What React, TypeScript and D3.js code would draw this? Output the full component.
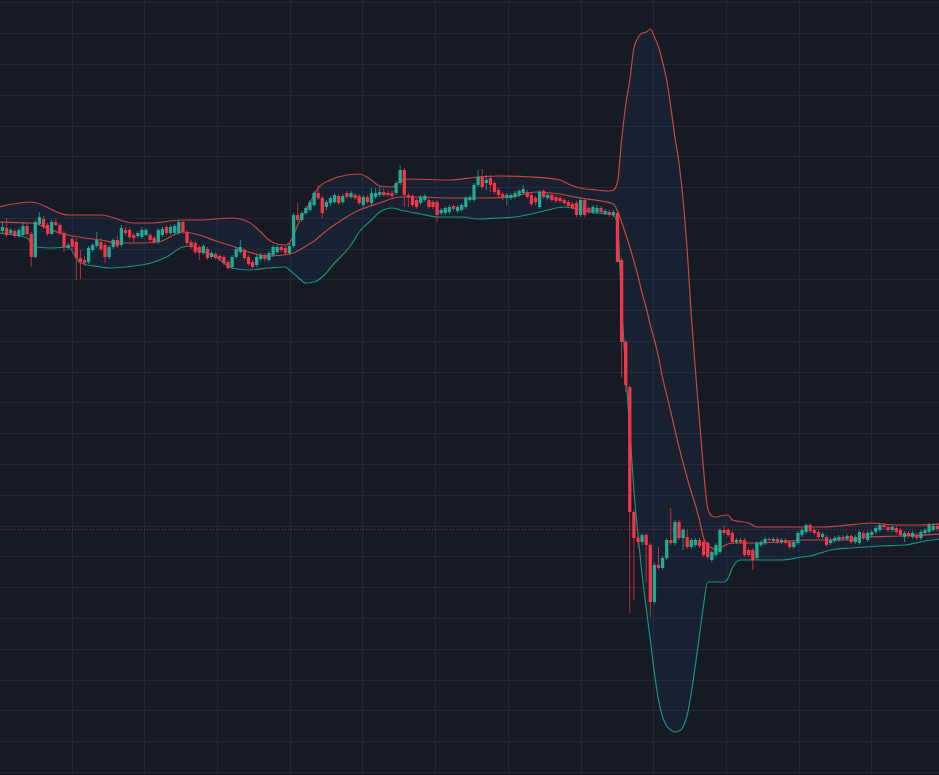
import React from 'react';
import * as d3 from 'd3';

const W = 939;
const H = 775;

// OHLC per candle (index 0..228)
const opens = [
  569,572,567,569,564,565,574,566,543,576,
  581,575,566,578,575,567,552,561,558,542,
  540,538,550,554,558,555,543,553,560,555,
  570,570,565,564,563,565,565,562,558,565,
  573,567,567,567,578,568,558,557,553,547,
  551,543,546,544,543,538,533,543,548,550,
  543,538,535,541,545,540,545,548,553,552,
  547,554,585,580,587,590,595,607,602,593,
  597,598,604,598,607,603,605,604,595,603,
  597,603,605,608,607,607,607,617,630,605,
  604,600,597,600,600,598,598,587,587,588,
  594,589,590,593,600,600,615,623,617,622,
  617,610,606,602,602,603,605,607,608,605,
  602,593,609,602,605,603,602,600,598,596,
  597,585,600,592,588,588,592,587,588,585,
  587,540,458,413,288,262,258,265,255,198,
  235,232,242,260,257,278,262,263,253,255,
  260,258,257,240,245,248,270,270,267,258,
  260,260,250,250,242,255,257,261,259,261,
  258,260,258,253,257,265,268,275,270,268,
  263,263,257,259,260,263,261,264,258,257,
  267,260,265,268,270,275,273,270,272,270,
  263,267,263,265,262,267,268,270,274,
];
const highs = [
  578,582,572,571,572,578,577,568,580,588,
  584,577,580,581,577,569,557,564,562,550,
  544,554,557,568,562,557,555,562,564,575,
  573,573,567,569,573,572,567,564,572,573,
  575,575,576,581,580,570,560,559,555,556,
  553,549,548,546,545,540,545,553,560,552,
  545,540,545,547,547,549,555,555,555,554,
  556,587,597,589,594,600,609,615,604,600,
  604,607,606,606,609,609,607,606,605,605,
  612,612,614,612,610,610,619,635,632,607,
  606,602,605,606,602,600,600,592,594,595,
  596,595,597,604,605,617,630,631,625,625,
  619,612,608,607,607,609,611,615,610,607,
  604,610,611,607,607,605,604,602,600,598,
  599,602,602,594,595,595,594,591,590,590,
  589,542,460,415,290,264,267,267,257,237,
  253,244,262,292,280,280,272,270,262,262,
  262,260,259,250,257,272,275,272,269,262,
  262,262,252,252,259,260,263,263,263,263,
  262,262,260,260,269,272,277,277,272,270,
  268,265,262,264,265,265,266,266,265,270,
  269,269,270,274,277,277,275,275,274,272,
  269,269,269,267,270,272,277,277,277,
];
const lows = [
  567,563,565,562,562,564,564,533,542,574,
  571,564,565,574,565,548,550,550,520,521,
  534,536,548,552,549,537,541,551,552,553,
  565,561,558,562,561,564,558,556,556,563,
  565,565,565,565,566,555,551,546,540,545,
  540,541,540,539,535,530,531,541,546,540,
  534,531,533,539,539,538,543,546,548,545,
  545,552,578,578,585,588,593,600,582,590,
  594,596,595,596,601,601,600,595,593,596,
  595,601,603,603,603,602,605,615,593,593,
  593,591,595,598,591,591,578,585,585,586,
  589,587,588,591,598,598,613,611,610,608,
  606,603,600,595,600,601,603,605,601,594,
  595,591,601,600,598,597,597,595,592,590,
  583,583,583,586,586,586,586,585,583,583,
  538,423,408,187,200,252,255,217,183,196,
  230,230,240,255,255,260,250,251,251,253,
  252,243,241,238,243,246,265,263,256,256,
  256,243,243,230,240,253,255,258,257,256,
  256,255,251,251,255,263,266,267,265,261,
  261,253,255,257,258,259,259,256,256,255,
  260,258,263,266,268,271,268,268,266,263,
  258,262,261,260,260,265,266,268,269,
];
const closes = [
  573,565,570,564,570,574,566,543,578,583,
  573,566,578,575,567,553,555,553,542,538,
  537,552,555,560,551,543,553,560,554,572,
  567,563,562,567,570,570,560,558,570,571,
  567,573,574,578,568,557,553,548,547,554,
  542,547,542,541,537,532,543,551,553,542,
  536,533,543,545,541,547,553,553,550,547,
  554,585,580,587,592,598,607,602,587,598,
  602,605,597,604,603,607,602,597,603,598,
  607,607,608,605,605,604,617,630,605,603,
  595,593,603,604,593,593,585,590,592,593,
  591,593,595,602,603,615,623,613,620,615,
  608,605,602,605,605,607,609,611,603,596,
  598,608,603,605,600,599,599,597,594,592,
  585,600,585,588,593,592,588,589,585,588,
  538,458,415,288,262,258,265,255,198,235,
  232,242,260,257,278,262,270,253,260,260,
  254,245,243,248,255,270,267,265,258,260,
  258,245,245,240,257,258,261,260,261,258,
  260,257,253,258,267,270,275,269,267,263,
  266,255,260,262,263,261,264,258,263,268,
  262,267,268,272,275,273,270,273,268,265,
  267,264,267,262,268,270,275,274,271,
];

// Bollinger band readings: [candle index, price]
const upperBand: [number, number][] = [
  [-1, 593], [7, 598], [16, 585], [24, 585], [32, 577], [36, 577], [44, 580], [48, 580],
  [56, 582], [60, 578], [63, 568], [65, 560], [67, 556], [69, 555], [70, 557], [71, 565],
  [72, 575], [74, 590], [76, 605], [77, 612], [80, 620], [84, 625], [87, 626], [90, 620],
  [92, 614], [95, 613], [97, 619], [99, 621], [109, 620], [116, 623], [121, 624], [129, 623],
  [136, 620], [138, 616], [141, 612], [145, 610], [148, 609], [149, 610], [150, 618],
  [151, 660], [152, 695], [153, 720], [154, 752], [155, 762], [156, 767], [157, 768],
  [158, 771], [159, 763], [160, 753], [161, 738], [162, 720], [163, 693], [164, 663],
  [165, 637], [166, 600], [167, 550], [168, 485], [169, 430], [170, 380], [171, 330],
  [172, 292], [173, 284], [174, 283], [175, 284], [177, 285], [178, 280], [182, 277],
  [184, 273], [195, 273], [200, 273], [204, 274], [212, 277], [218, 275], [224, 275], [229, 276],
];
const middleBand: [number, number][] = [
  [-1, 578], [7, 577], [14, 567], [20, 562], [24, 560], [28, 557], [34, 557], [38, 558],
  [44, 568], [48, 565], [52, 559], [56, 554], [60, 548], [65, 544], [70, 546], [72, 549],
  [74, 554], [76, 559], [78, 566], [82, 578], [87, 590], [92, 597], [97, 603], [102, 603],
  [109, 602], [117, 602], [124, 603], [130, 608], [134, 607], [141, 602], [146, 599],
  [149, 596], [150, 589], [151, 578], [152, 566], [153, 553], [154, 539], [155, 524],
  [156, 507], [157, 492], [158, 475], [159, 460], [160, 443], [161, 422], [162, 405],
  [163, 388], [164, 370], [165, 353], [166, 337], [167, 322], [168, 308], [169, 295],
  [170, 280], [171, 262], [172, 255], [173, 252], [174, 250], [175, 252], [178, 257],
  [184, 257], [190, 258], [195, 260], [207, 260], [211, 263], [219, 264], [229, 266],
];
const lowerBand: [number, number][] = [
  [-1, 567], [6, 562], [8, 553], [12, 552], [16, 553], [19, 537], [24, 533], [26, 532],
  [30, 533], [37, 538], [40, 543], [44, 553], [46, 554], [48, 550], [52, 543], [56, 532],
  [60, 530], [65, 532], [69, 533], [70, 530], [72, 523], [74, 517], [76, 518], [78, 523],
  [81, 537], [85, 555], [87, 568], [90, 580], [92, 588], [95, 592], [97, 590], [102, 586],
  [106, 583], [112, 583], [116, 581], [121, 582], [125, 583], [129, 586], [133, 590],
  [137, 593], [141, 590], [145, 587], [149, 585], [150, 575], [151, 495], [152, 428],
  [153, 370], [154, 310], [155, 265], [156, 225], [157, 192], [158, 160], [159, 127],
  [160, 100], [161, 83], [162, 74], [163, 70], [164, 68], [165, 69], [166, 73], [167, 85],
  [168, 107], [169, 135], [170, 165], [171, 195], [172, 218], [176, 218], [177, 222],
  [178, 232], [180, 240], [190, 240], [195, 243], [197, 244], [202, 250], [207, 252],
  [214, 254], [220, 255], [225, 259], [229, 261],
];

// grid positions (price levels and candle positions)
const gridPrices = [
  797.5, 766.7, 736.0, 705.2, 674.4, 643.7, 612.9, 582.1, 551.3, 520.6, 489.8, 459.0, 428.3,
  397.5, 366.7, 335.9, 305.2, 274.4, 243.6, 212.9, 182.1, 151.3, 120.5, 89.8, 59.0, 28.2,
];
const gridIdx = [16.88, 34.61, 52.34, 70.07, 87.8, 105.54, 123.27, 141.0, 158.73, 176.46, 194.2, 211.93];

const BG = '#161a25';
const GRID = '#232732';
const UP = '#22ab94';
const DOWN = '#f23645';

export default function App() {
  const x = d3.scaleLinear().domain([0, 228]).range([2.5, 937.3]);
  const y = d3.scaleLinear().domain([25, 800]).range([H, 0]);

  const line = d3
    .line<[number, number]>()
    .x((d) => x(d[0]))
    .y((d) => y(d[1]))
    .curve(d3.curveMonotoneX);
  const belowUpper = d3
    .area<[number, number]>()
    .x((d) => x(d[0]))
    .y0(H + 10)
    .y1((d) => y(d[1]))
    .curve(d3.curveMonotoneX);
  const aboveLower = d3
    .area<[number, number]>()
    .x((d) => x(d[0]))
    .y0(-10)
    .y1((d) => y(d[1]))
    .curve(d3.curveMonotoneX);

  const lastClose = closes[closes.length - 1];
  const lastUp = closes[closes.length - 1] >= opens[opens.length - 1];

  return (
    <svg
      width={W}
      height={H}
      style={{ position: 'absolute', left: 0, top: 0, display: 'block' }}
    >
      <defs>
        <clipPath id="bandClip">
          <path d={aboveLower(lowerBand) || ''} />
        </clipPath>
      </defs>
      <rect x={0} y={0} width={W} height={H} fill={BG} />
      {gridPrices.map((p, k) => (
        <line key={'h' + k} x1={0} x2={W} y1={Math.round(y(p)) + 0.5} y2={Math.round(y(p)) + 0.5} stroke={GRID} strokeWidth={1} />
      ))}
      {gridIdx.map((g, k) => (
        <line key={'v' + k} y1={0} y2={H} x1={Math.round(x(g)) + 0.5} x2={Math.round(x(g)) + 0.5} stroke={GRID} strokeWidth={1} />
      ))}
      <path d={belowUpper(upperBand) || ''} fill="rgba(40,95,160,0.11)" clipPath="url(#bandClip)" />
      <path d={line(upperBand) || ''} fill="none" stroke="#c8463b" strokeWidth={1.2} />
      <path d={line(middleBand) || ''} fill="none" stroke="#c4473c" strokeWidth={1.2} />
      <path d={line(lowerBand) || ''} fill="none" stroke="#1d8f7d" strokeWidth={1.2} />
      <line
        x1={0}
        x2={W}
        y1={Math.round(y(lastClose)) + 0.5}
        y2={Math.round(y(lastClose)) + 0.5}
        stroke={lastUp ? UP : DOWN}
        strokeOpacity={0.55}
        strokeDasharray="1 2"
      />
      {opens.map((o, i) => {
        const c = closes[i];
        const up = c >= o;
        const col = up ? UP : DOWN;
        const cx = x(i);
        const top = y(Math.max(o, c));
        const bot = y(Math.min(o, c));
        return (
          <g key={i}>
            <line x1={cx} x2={cx} y1={y(highs[i])} y2={y(lows[i])} stroke={col} strokeOpacity={0.75} strokeWidth={1} />
            <rect x={cx - 1.65} y={top} width={3.3} height={Math.max(1, bot - top)} fill={col} />
          </g>
        );
      })}
    </svg>
  );
}
